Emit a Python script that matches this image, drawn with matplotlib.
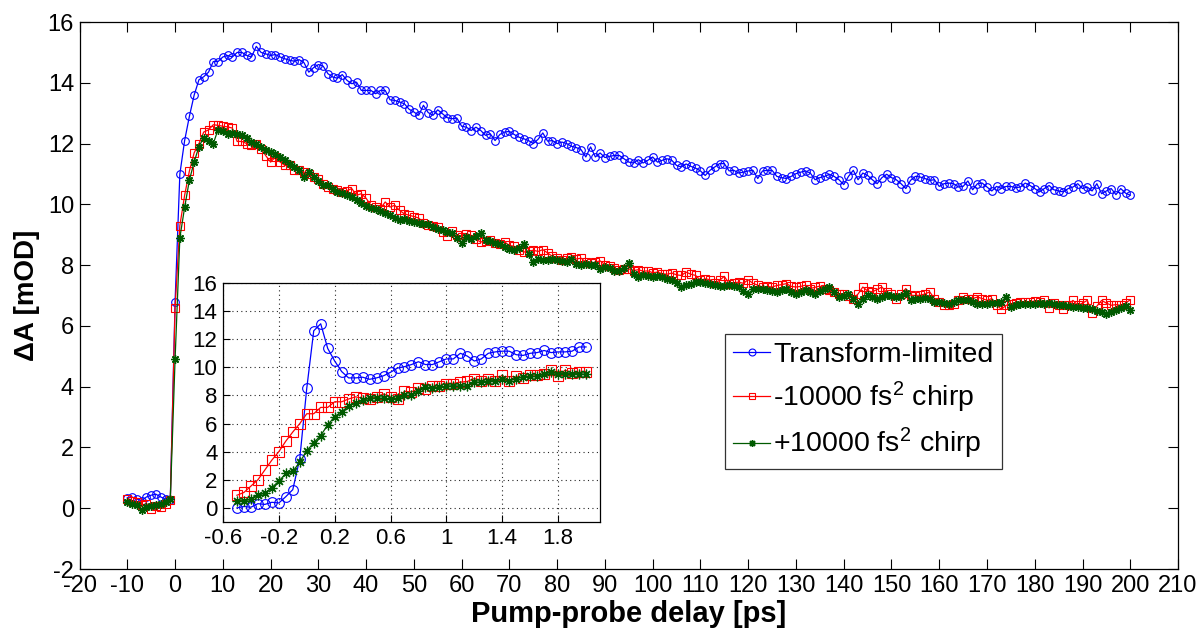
import numpy as np
import matplotlib
matplotlib.use("Agg")
from matplotlib import pyplot as plt

plt.rcParams['font.family'] = ['Liberation Sans', 'DejaVu Sans']
plt.rcParams['mathtext.default'] = 'regular'
plt.rcParams['axes.unicode_minus'] = False

# main panel: delay grid in ps (1 ps steps)
delay = np.arange(-10, 201)

tl_main = [0.35, 0.37, 0.30, 0.25, 0.37, 0.43, 0.46, 0.37, 0.30, 0.28,
           6.80, 11.0, 12.1, 12.9, 13.6, 14.1, 14.2, 14.35, 14.7, 14.7,
           14.85, 14.9, 14.85, 15.0, 15.0, 14.9, 14.85, 15.2, 15.0, 14.95,
           14.9, 14.93, 14.85, 14.79, 14.74, 14.71, 14.76, 14.66, 14.35, 14.5,
           14.6, 14.55, 14.3, 14.19, 14.15, 14.27, 14.08, 13.97, 14.02, 13.75,
           13.75, 13.75, 13.64, 13.75, 13.75, 13.44, 13.42, 13.37, 13.31, 13.13,
           13.04, 12.93, 13.26, 13.02, 12.93, 13.11, 12.98, 12.85, 12.82, 12.84,
           12.57, 12.54, 12.43, 12.54, 12.43, 12.27, 12.32, 12.1, 12.3, 12.38,
           12.4, 12.3, 12.21, 12.16, 12.1, 12.0, 12.14, 12.35, 12.08, 12.1,
           12.0, 12.05, 12.0, 11.91, 11.87, 11.8, 11.56, 11.89, 11.56, 11.69,
           11.54, 11.58, 11.61, 11.61, 11.5, 11.39, 11.36, 11.47, 11.36, 11.45,
           11.56, 11.39, 11.45, 11.5, 11.45, 11.28, 11.23, 11.33, 11.25, 11.19,
           11.1, 10.95, 11.12, 11.23, 11.34, 11.34, 11.1, 11.12, 11.03, 11.06,
           11.1, 11.12, 10.85, 11.1, 11.12, 11.12, 10.92, 10.88, 10.85, 10.92,
           11.01, 11.06, 11.1, 11.03, 10.81, 10.88, 10.92, 10.99, 10.92, 10.81,
           10.65, 10.92, 11.12, 10.81, 11.03, 10.95, 10.81, 10.68, 10.88, 10.99,
           10.88, 10.81, 10.68, 10.52, 10.79, 10.92, 10.9, 10.85, 10.79, 10.81,
           10.59, 10.68, 10.7, 10.68, 10.57, 10.59, 10.77, 10.48, 10.68, 10.7,
           10.57, 10.44, 10.59, 10.52, 10.59, 10.59, 10.55, 10.57, 10.7, 10.62,
           10.52, 10.41, 10.52, 10.62, 10.48, 10.44, 10.41, 10.52, 10.57, 10.68,
           10.52, 10.57, 10.44, 10.68, 10.35, 10.44, 10.52, 10.32, 10.52, 10.37,
           10.3]

neg_main = [0.29, 0.25, 0.21, 0.10, 0.15, -0.01, 0.07, 0.04, 0.15, 0.26,
            6.6, 9.3, 10.3, 11.1, 11.7, 12.0, 12.38, 12.45, 12.62, 12.6,
            12.57, 12.55, 12.51, 12.07, 12.07, 12.0, 11.94, 12.0, 11.83, 11.6,
            11.39, 11.56, 11.39, 11.28, 11.28, 11.14, 11.12, 11.06, 11.0, 10.9,
            10.84, 10.66, 10.57, 10.5, 10.46, 10.4, 10.45, 10.52, 10.3, 10.35,
            10.2, 9.97, 9.9, 9.86, 10.08, 9.91, 9.97, 9.8, 9.69, 9.64,
            9.6, 9.55, 9.4, 9.32, 9.28, 9.25, 9.1, 8.95, 9.12, 9.0,
            8.93, 9.04, 8.98, 8.85, 8.76, 8.8, 8.84, 8.73, 8.7, 8.76,
            8.65, 8.62, 8.5, 8.43, 8.46, 8.49, 8.45, 8.51, 8.4, 8.29,
            8.25, 8.16, 8.22, 8.27, 8.2, 8.23, 8.1, 8.07, 8.1, 8.14,
            8.02, 7.96, 7.9, 7.83, 7.86, 7.88, 7.82, 7.85, 7.8, 7.81,
            7.75, 7.77, 7.72, 7.7, 7.74, 7.68, 7.66, 7.77, 7.7, 7.66,
            7.5, 7.55, 7.52, 7.41, 7.5, 7.63, 7.39, 7.42, 7.44, 7.4,
            7.52, 7.4, 7.34, 7.28, 7.3, 7.28, 7.33, 7.36, 7.39, 7.3,
            7.28, 7.3, 7.34, 7.23, 7.27, 7.31, 7.2, 7.17, 7.1, 7.04,
            7.06, 7.0, 6.9, 7.05, 7.28, 7.15, 7.12, 7.2, 7.28, 7.1,
            7.06, 6.9, 7.05, 7.23, 7.01, 7.0, 7.01, 7.05, 7.12, 6.9,
            6.79, 6.68, 6.7, 6.71, 6.85, 6.95, 6.88, 6.9, 6.95, 6.9,
            6.84, 6.9, 6.7, 6.54, 6.68, 6.72, 6.75, 6.79, 6.8, 6.79,
            6.82, 6.8, 6.84, 6.59, 6.75, 6.7, 6.54, 6.7, 6.84, 6.68,
            6.75, 6.84, 6.43, 6.65, 6.84, 6.75, 6.68, 6.7, 6.68, 6.75,
            6.86]

pos_main = [0.21, 0.15, 0.10, -0.07, 0.05, 0.08, 0.10, 0.15, 0.20, 0.30,
            4.9, 8.9, 9.9, 10.8, 11.4, 11.9, 12.2, 12.1, 12.0, 12.46,
            12.4, 12.32, 12.35, 12.32, 12.28, 12.2, 12.05, 12.0, 11.9, 11.78,
            11.72, 11.65, 11.56, 11.45, 11.32, 11.23, 11.12, 10.9, 11.06, 10.9,
            10.78, 10.65, 10.63, 10.5, 10.41, 10.38, 10.3, 10.24, 10.15, 10.05,
            9.95, 9.88, 9.86, 9.78, 9.72, 9.64, 9.55, 9.5, 9.52, 9.45,
            9.42, 9.4, 9.36, 9.34, 9.26, 9.2, 9.14, 9.1, 9.06, 8.9,
            8.73, 8.93, 8.87, 8.95, 9.06, 8.82, 8.78, 8.73, 8.71, 8.6,
            8.54, 8.49, 8.55, 8.68, 8.38, 8.1, 8.21, 8.18, 8.16, 8.2,
            8.16, 8.12, 8.1, 8.21, 8.05, 7.99, 8.03, 8.0, 7.99, 7.88,
            7.94, 7.9, 7.81, 7.81, 7.9, 8.07, 7.72, 7.61, 7.66, 7.64,
            7.61, 7.63, 7.61, 7.55, 7.5, 7.4, 7.28, 7.35, 7.39, 7.43,
            7.45, 7.42, 7.39, 7.35, 7.3, 7.32, 7.34, 7.3, 7.28, 7.15,
            7.06, 7.2, 7.23, 7.2, 7.17, 7.14, 7.12, 7.18, 7.23, 7.12,
            7.06, 7.1, 7.17, 7.1, 7.06, 7.15, 7.2, 7.28, 7.1, 6.95,
            7.0, 7.06, 6.9, 6.73, 6.9, 7.01, 6.95, 6.9, 6.95, 7.01,
            6.98, 6.95, 7.0, 7.08, 6.84, 6.87, 6.9, 6.92, 6.9, 6.79,
            6.79, 6.76, 6.73, 6.8, 6.86, 6.85, 6.84, 6.78, 6.73, 6.73,
            6.73, 6.74, 6.75, 6.8, 6.95, 6.62, 6.68, 6.71, 6.72, 6.73,
            6.73, 6.74, 6.73, 6.75, 6.72, 6.7, 6.68, 6.65, 6.62, 6.61,
            6.6, 6.58, 6.57, 6.5, 6.45, 6.4, 6.47, 6.51, 6.58, 6.64,
            6.51]

# inset: first 2.5 ps, 50 fs steps
delay_in = np.linspace(-0.5, 2.0, 51)

tl_in = [0.0, 0.1, 0.05, 0.3, 0.25, 0.4, 0.35, 0.8, 1.3, 3.5,
         8.5, 12.6, 13.1, 11.35, 10.45, 9.7, 9.25, 9.25, 9.3, 9.15,
         9.25, 9.4, 9.65, 9.95, 10.05, 10.2, 10.4, 10.2, 10.2, 10.4,
         10.6, 10.6, 11.0, 10.8, 10.45, 10.6, 11.0, 11.1, 11.15, 11.15,
         10.9, 10.85, 11.0, 11.05, 11.2, 11.05, 11.1, 11.1, 11.15, 11.45,
         11.45]
neg_in = [0.9, 1.1, 1.55, 2.0, 2.7, 3.4, 4.0, 4.75, 5.4, 6.0,
          6.7, 6.7, 7.15, 7.15, 7.55, 7.55, 7.75, 7.9, 7.8, 7.75,
          7.9, 8.1, 7.9, 7.75, 8.3, 8.25, 8.5, 8.45, 8.65, 8.7,
          8.85, 8.85, 8.95, 9.0, 9.2, 9.05, 9.2, 9.05, 9.45, 9.0,
          9.35, 9.25, 9.45, 9.45, 9.55, 9.8, 9.4, 9.8, 9.6, 9.65,
          9.7]
pos_in = [0.5, 0.5, 0.6, 0.9, 1.05, 1.45, 1.9, 2.45, 2.6, 3.25,
          4.05, 4.65, 5.15, 5.9, 6.5, 6.85, 7.25, 7.45, 7.65, 7.8,
          7.8, 7.8, 7.75, 7.8, 8.0, 8.0, 8.3, 8.6, 8.55, 8.6,
          8.65, 8.7, 8.65, 8.7, 8.95, 8.95, 9.05, 9.05, 9.2, 9.05,
          9.2, 9.3, 9.35, 9.35, 9.5, 9.65, 9.55, 9.55, 9.55, 9.55,
          9.5]

labels = ['Transform-limited', '-10000 fs$^2$ chirp', '+10000 fs$^2$ chirp']
green = '#005a00'
star = (8, 2, 0)

fig = plt.figure(figsize=(12, 6.33), dpi=100)
ax = fig.add_axes([0.0663, 0.1011, 0.9154, 0.8641])

ax.plot(delay, tl_main, '-o', color='b', lw=0.9, ms=5.5, mfc='none', mew=0.8, label=labels[0])
ax.plot(delay, neg_main, '-s', color='r', lw=0.9, ms=5.5, mfc='none', mew=0.8, label=labels[1])
ax.plot(delay, pos_main, '-', marker=star, color=green, lw=0.9, ms=6, mew=1.0, label=labels[2])

ax.set_xlim(-20, 210)
ax.set_ylim(-2, 16)
ax.set_xticks(np.arange(-20, 211, 10))
ax.set_yticks(np.arange(-2, 17, 2))
ax.tick_params(direction='in', top=True, right=True, length=7, width=0.8,
               labelsize=17, pad=4)
for s in ax.spines.values():
    s.set_linewidth(0.9)
ax.set_xlabel('Pump-probe delay [ps]', fontsize=21, fontweight='bold')
ax.set_ylabel('ΔA [mOD]', fontsize=20, fontweight='bold')
ax.xaxis.set_label_coords(0.5, -0.056)
ax.yaxis.set_label_coords(-0.036, 0.5)

leg = ax.legend(loc='upper left', bbox_to_anchor=(0.5876, 0.4296), borderaxespad=0,
                fontsize=20.5, numpoints=1, fancybox=False, edgecolor='0.2',
                handlelength=1.3, handletextpad=0.12, labelspacing=0.4,
                borderpad=0.28, framealpha=1)
leg.get_frame().set_linewidth(0.9)
for h in leg.get_lines():
    h.set_linewidth(0.9)
    h.set_markersize(5)

# inset
ins = fig.add_axes([0.1858, 0.1754, 0.3142, 0.3775])
ins.plot(delay_in, tl_in, '-o', color='b', lw=0.9, ms=7, mfc='none', mew=0.8)
ins.plot(delay_in, neg_in, '-s', color='r', lw=0.9, ms=7.5, mfc='none', mew=0.8)
ins.plot(delay_in, pos_in, '-', marker=star, color=green, lw=0.9, ms=7, mew=0.9)
ins.set_xlim(-0.6, 2.1)
ins.set_ylim(-1, 16)
ins.set_xticks([-0.6, -0.2, 0.2, 0.6, 1.0, 1.4, 1.8])
ins.set_xticklabels(['-0.6', '-0.2', '0.2', '0.6', '1', '1.4', '1.8'])
ins.set_yticks(np.arange(0, 17, 2))
ins.grid(True, color='0.15', linestyle=(0, (1, 3)), linewidth=0.8)
ins.tick_params(direction='in', length=5, width=0.8, labelsize=16, pad=4)
for s in ins.spines.values():
    s.set_linewidth(0.9)

fig.savefig('out.png', dpi=100)
